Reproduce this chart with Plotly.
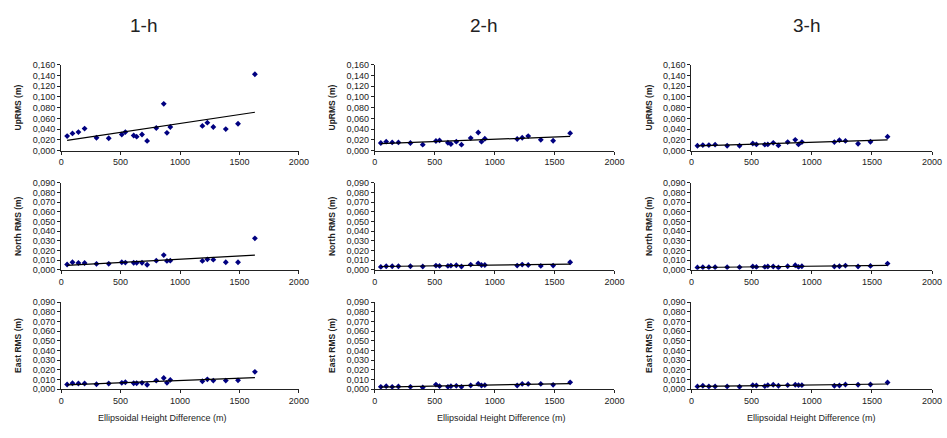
import numpy as np
import plotly.graph_objects as go

# Shared x: ellipsoidal height difference (m)
height_diff = [50, 95, 145, 197, 297, 400, 510, 540, 610, 635, 680, 723,
               800, 863, 890, 918, 1188, 1230, 1280, 1385, 1488, 1630]

# 1-h session
up_1h = [0.027, 0.032, 0.0345, 0.041, 0.024, 0.023, 0.030, 0.0345, 0.028, 0.026, 0.030, 0.018,
         0.042, 0.087, 0.033, 0.044, 0.046, 0.052, 0.044, 0.040, 0.050, 0.142]
north_1h = [0.0055, 0.0078, 0.007, 0.007, 0.0062, 0.0062, 0.0078, 0.0075, 0.0073, 0.0072, 0.0073, 0.0052,
            0.0095, 0.0152, 0.0092, 0.0095, 0.0092, 0.0108, 0.0105, 0.0078, 0.0078, 0.0326]
east_1h = [0.0047, 0.006, 0.0057, 0.0057, 0.005, 0.0057, 0.0064, 0.007, 0.006, 0.006, 0.0064, 0.0044,
           0.0087, 0.0114, 0.0064, 0.0094, 0.008, 0.010, 0.0087, 0.0087, 0.009, 0.0178]

# 2-h session
up_2h = [0.0141, 0.0166, 0.0153, 0.0153, 0.0141, 0.011, 0.0178, 0.019, 0.0147, 0.0123, 0.0166, 0.011,
         0.0233, 0.0337, 0.0166, 0.022, 0.0215, 0.024, 0.027, 0.020, 0.0184, 0.0325]
north_2h = [0.003, 0.0037, 0.0037, 0.0037, 0.0037, 0.0034, 0.0044, 0.004, 0.004, 0.0044, 0.0047, 0.0034,
            0.0054, 0.0067, 0.005, 0.005, 0.0044, 0.0054, 0.005, 0.004, 0.0044, 0.0078]
east_2h = [0.0023, 0.003, 0.0023, 0.0026, 0.0023, 0.0016, 0.0046, 0.003, 0.0023, 0.003, 0.0033, 0.0023,
           0.0036, 0.0053, 0.0036, 0.004, 0.0036, 0.0053, 0.0053, 0.0053, 0.0043, 0.0069]

# 3-h session
up_3h = [0.0091, 0.0103, 0.0103, 0.011, 0.009, 0.009, 0.0133, 0.0115, 0.011, 0.0115, 0.0145, 0.0097,
         0.0158, 0.020, 0.0115, 0.0158, 0.0158, 0.0194, 0.018, 0.0127, 0.0164, 0.026]
north_3h = [0.0024, 0.0027, 0.0027, 0.0027, 0.0027, 0.0027, 0.0034, 0.003, 0.003, 0.0034, 0.0034, 0.0024,
            0.0037, 0.0047, 0.003, 0.0037, 0.0034, 0.0037, 0.0044, 0.0034, 0.004, 0.0064]
east_3h = [0.0027, 0.0034, 0.0027, 0.0027, 0.0027, 0.0024, 0.004, 0.0037, 0.003, 0.004, 0.0044, 0.0034,
           0.004, 0.0044, 0.004, 0.004, 0.0034, 0.0037, 0.0047, 0.0044, 0.0047, 0.0067]

column_titles = ["1-h", "2-h", "3-h"]
row_titles = ["UpRMS (m)", "North RMS (m)", "East RMS (m)"]
row_ranges = [0.16, 0.09, 0.09]
row_dticks = [0.02, 0.01, 0.01]
x_title = "Ellipsoidal Height Difference (m)"

series = [[up_1h, up_2h, up_3h],
          [north_1h, north_2h, north_3h],
          [east_1h, east_2h, east_3h]]

W, H = 947, 438
col_px = [(59, 300), (377, 620), (698, 942)]
row_px = [(61, 149), (182, 271), (304, 393)]
col_title_x = [142, 487, 815]
xtitle_x = [161, 505, 819]

fig = go.Figure()
font_fam = "Arial, Liberation Sans, sans-serif"
tick_font = dict(family=font_fam, size=9, color="#222")

for r in range(3):
    for c in range(3):
        idx = r * 3 + c + 1
        xa = "x" if idx == 1 else f"x{idx}"
        ya = "y" if idx == 1 else f"y{idx}"
        yv = series[r][c]
        fig.add_trace(go.Scatter(x=height_diff, y=yv, mode="markers",
                                 marker=dict(symbol="diamond", size=4.5, color="#000080"),
                                 xaxis=xa, yaxis=ya, showlegend=False))
        k, b = np.polyfit(height_diff, yv, 1)
        xs = [min(height_diff), max(height_diff)]
        fig.add_trace(go.Scatter(x=xs, y=[k * v + b for v in xs], mode="lines",
                                 line=dict(color="black", width=1.2),
                                 xaxis=xa, yaxis=ya, showlegend=False))
        x0, x1 = col_px[c]
        y0, y1 = row_px[r]
        xkey = "xaxis" if idx == 1 else f"xaxis{idx}"
        ykey = "yaxis" if idx == 1 else f"yaxis{idx}"
        fig.update_layout(**{
            xkey: dict(domain=[x0 / W, x1 / W], anchor=ya, range=[0, 2000],
                       tickvals=[0, 500, 1000, 1500, 2000], showgrid=False, zeroline=False,
                       showline=True, linecolor="#222", linewidth=1,
                       ticks="outside", ticklen=3, tickcolor="#222", tickfont=tick_font),
            ykey: dict(domain=[1 - y1 / H, 1 - y0 / H], anchor=xa, range=[0, row_ranges[r]],
                       dtick=row_dticks[r], tickformat=".3f", showgrid=False, zeroline=False,
                       showline=True, linecolor="#222", linewidth=1,
                       ticks="outside", ticklen=3, tickcolor="#222", tickfont=tick_font,
                       title=dict(text="<b>" + row_titles[r] + "</b>", standoff=9,
                                  font=dict(family=font_fam, size=8.5, color="#222"))),
        })

annotations = []
for c in range(3):
    annotations.append(dict(text=column_titles[c], x=col_title_x[c] / W, y=1 - 21 / H,
                            xref="paper", yref="paper", showarrow=False,
                            xanchor="center", yanchor="middle",
                            font=dict(family=font_fam, size=19, color="#222")))
    annotations.append(dict(text=x_title, x=xtitle_x[c] / W, y=1 - 423 / H,
                            xref="paper", yref="paper", showarrow=False,
                            xanchor="center", yanchor="middle",
                            font=dict(family=font_fam, size=9, color="#222")))

fig.update_layout(width=W, height=H, margin=dict(l=0, r=0, t=0, b=0),
                  paper_bgcolor="white", plot_bgcolor="white",
                  separators=",.", annotations=annotations)

fig.write_html("out.html")
